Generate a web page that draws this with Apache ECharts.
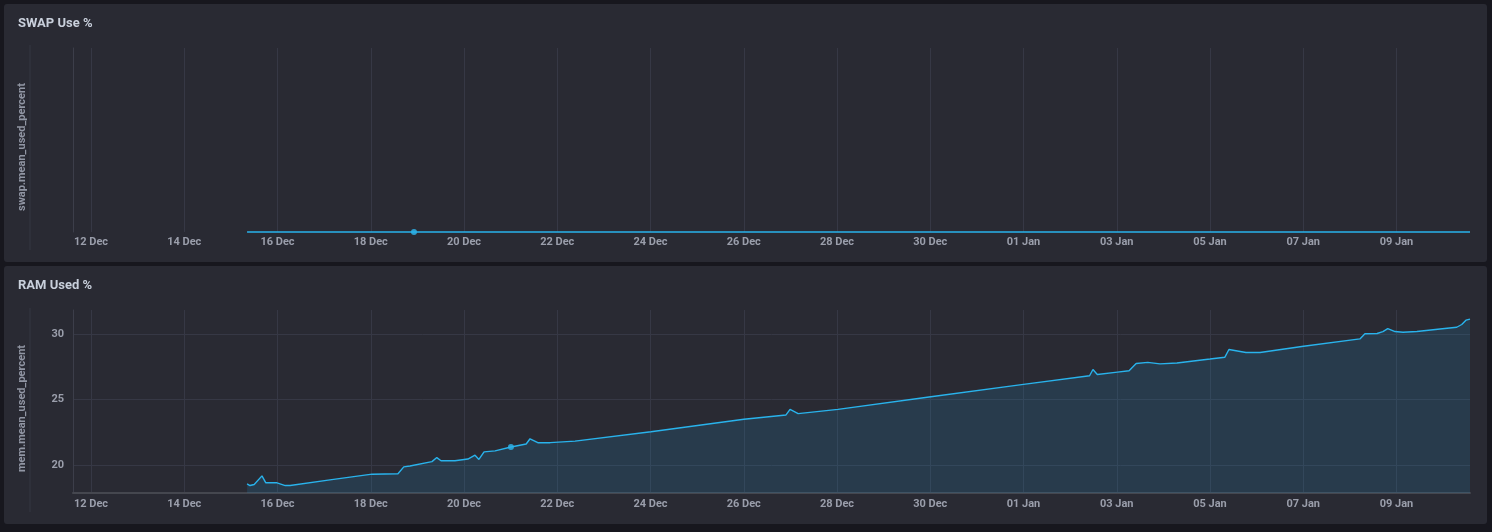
<!DOCTYPE html>
<html>
<head>
<meta charset="utf-8">
<script src="https://cdn.jsdelivr.net/npm/echarts@6/dist/echarts.min.js"></script>
<style>
  html,body{margin:0;padding:0;background:#17171e;width:1492px;height:532px;overflow:hidden;}
  .panel{position:absolute;background:#292a33;border-radius:3px;}
  #chart{position:absolute;left:0;top:0;width:1492px;height:532px;}
</style>
</head>
<body>
<div class="panel" style="left:4px;top:4px;width:1483px;height:258px;"></div>
<div class="panel" style="left:4px;top:266px;width:1483px;height:258px;"></div>
<div id="chart"></div>
<script>
// ---- data ----
const axisStart = '2023-12-11 14:44';
const axisEnd = '2024-01-10 13:50';
const tickDates = ['2023-12-12','2023-12-14','2023-12-16','2023-12-18','2023-12-20','2023-12-22',
  '2023-12-24','2023-12-26','2023-12-28','2023-12-30','2024-01-01','2024-01-03','2024-01-05',
  '2024-01-07','2024-01-09'];
const monthNames = ['Jan','Feb','Mar','Apr','May','Jun','Jul','Aug','Sep','Oct','Nov','Dec'];

const swapTimes = ['2023-12-15 08:20','2023-12-18 22:15','2023-12-24 00:00','2023-12-30 00:00','2024-01-05 00:00','2024-01-10 13:50'];
const swapValues = [0,0,0,0,0,0];
const swapHoverTime = '2023-12-18 22:15';
const swapHoverValue = 0;

const ramTimes = ['2023-12-15 08:20','2023-12-15 09:50','2023-12-15 12:00','2023-12-15 16:00','2023-12-15 18:00',
  '2023-12-15 23:45','2023-12-16 04:00','2023-12-16 06:30','2023-12-17 03:00','2023-12-18 00:40','2023-12-18 14:00',
  '2023-12-18 17:00','2023-12-18 20:10','2023-12-19 07:30','2023-12-19 10:00','2023-12-19 12:10','2023-12-19 19:20',
  '2023-12-20 02:00','2023-12-20 05:40','2023-12-20 07:40','2023-12-20 10:20','2023-12-20 16:00','2023-12-21 00:10',
  '2023-12-21 08:00','2023-12-21 10:00','2023-12-21 14:00','2023-12-21 20:20','2023-12-22 09:10','2023-12-24 00:15',
  '2023-12-26 00:05','2023-12-26 21:45','2023-12-26 23:50','2023-12-27 04:00','2023-12-28 00:30','2023-12-30 00:20',
  '2024-01-01 00:00','2024-01-02 10:00','2024-01-02 11:45','2024-01-02 14:00','2024-01-03 00:20','2024-01-03 06:20',
  '2024-01-03 10:00','2024-01-03 16:00','2024-01-03 22:15','2024-01-04 07:00','2024-01-05 00:00','2024-01-05 07:40',
  '2024-01-05 09:45','2024-01-05 18:30','2024-01-06 01:45','2024-01-07 00:10','2024-01-08 05:10','2024-01-08 07:45',
  '2024-01-08 14:00','2024-01-08 17:00','2024-01-08 19:30','2024-01-08 23:15','2024-01-09 03:20','2024-01-09 10:30',
  '2024-01-09 22:25','2024-01-10 07:00','2024-01-10 09:35','2024-01-10 11:45','2024-01-10 13:50'];
const ramValues = [18.55,18.42,18.5,19.16,18.63,
  18.63,18.42,18.42,18.85,19.29,19.32,
  19.85,19.92,20.25,20.56,20.32,20.32,
  20.45,20.74,20.42,21.0,21.07,21.37,
  21.6,22.0,21.7,21.7,21.82,22.54,
  23.49,23.82,24.25,23.92,24.25,25.21,
  26.16,26.82,27.3,26.92,27.1,27.2,
  27.76,27.84,27.73,27.8,28.1,28.24,
  28.83,28.6,28.6,29.08,29.64,30.03,
  30.05,30.2,30.43,30.2,30.15,30.2,
  30.4,30.53,30.74,31.07,31.15];
const ramHoverTime = '2023-12-21 00:10';
const ramHoverValue = 21.37;
const ramTicks = [20,25,30];
const ramMin = 17.85, ramMax = 31.85;

// ---- helpers ----
function t(s){
  const p = s.split(/[- :]/).map(Number);
  return Date.UTC(p[0], p[1]-1, p[2], p[3]||0, p[4]||0);
}
function pad(n){return (n<10?'0':'')+n;}
function fmtDate(v){const d=new Date(v);return pad(d.getUTCDate())+' '+monthNames[d.getUTCMonth()];}
const ticks = tickDates.map(t);

const lineColor = '#29b3ec';
const gridColor = '#363845';
const labelColor = '#9a9eab';
const fontFam = 'Roboto, "Noto Sans", sans-serif';

function xAxisDef(gridIndex, showLine){
  return {
    type:'value', gridIndex, min:t(axisStart), max:t(axisEnd), scale:true,
    axisLine:{show:showLine, onZero:false, lineStyle:{color:'#45474f', width:2}},
    axisTick:{show:false, customValues:ticks},
    axisLabel:{customValues:ticks, formatter:fmtDate, color:labelColor, fontSize:11, fontWeight:'bold', fontFamily:fontFam, margin:showLine?6:5},
    splitLine:{show:true, lineStyle:{color:gridColor, width:1}}
  };
}
const nameStyle = {color:'#9196a4', fontSize:11, fontWeight:'bold', fontFamily:fontFam, padding:[0,14,0,0]};

const chart = echarts.init(document.getElementById('chart'), null, {renderer:'canvas'});
chart.setOption({
  backgroundColor:'transparent',
  animation:false,
  title:[
    {text:'SWAP Use %', left:18, top:17, padding:0, textStyle:{color:'#c9d0dc', fontSize:13, fontWeight:'bold', fontFamily:fontFam}},
    {text:'RAM Used %', left:18, top:279, padding:0, textStyle:{color:'#c9d0dc', fontSize:13, fontWeight:'bold', fontFamily:fontFam}}
  ],
  graphic:[
    {type:'rect', shape:{x:29.5, y:45, width:1, height:205}, style:{fill:'#353743'}, silent:true},
    {type:'rect', shape:{x:29.5, y:308, width:1, height:204}, style:{fill:'#353743'}, silent:true}
  ],
  grid:[
    {left:73, right:22, top:48, height:184},
    {left:73, right:22, top:310, height:183}
  ],
  xAxis:[xAxisDef(0,false), xAxisDef(1,true)],
  yAxis:[
    {type:'value', gridIndex:0, min:0, max:1,
     name:'swap.mean_used_percent', nameLocation:'middle', nameGap:45, nameRotate:90,
     nameTextStyle:nameStyle,
     axisLine:{show:true, lineStyle:{color:'#3c3e4a'}}, axisTick:{show:false},
     axisLabel:{show:false}, splitLine:{show:false}},
    {type:'value', gridIndex:1, min:ramMin, max:ramMax,
     name:'mem.mean_used_percent', nameLocation:'middle', nameGap:45, nameRotate:90,
     nameTextStyle:nameStyle,
     axisLine:{show:true, lineStyle:{color:'#3c3e4a'}},
     axisTick:{show:false, customValues:ramTicks},
     axisLabel:{customValues:ramTicks, color:labelColor, fontSize:11, fontWeight:'bold', fontFamily:fontFam, margin:9},
     splitLine:{show:true, lineStyle:{color:gridColor}}}
  ],
  series:[
    {type:'line', xAxisIndex:0, yAxisIndex:0, showSymbol:false, symbol:'none',
     data:swapTimes.map((s,i)=>[t(s),swapValues[i]]),
     lineStyle:{color:lineColor, width:1.4}, clip:false},
    {type:'scatter', xAxisIndex:0, yAxisIndex:0, symbolSize:6,
     data:[[t(swapHoverTime), swapHoverValue]], itemStyle:{color:'#2fbaf2'}},
    {type:'line', xAxisIndex:1, yAxisIndex:1, showSymbol:false, symbol:'none',
     data:ramTimes.map((s,i)=>[t(s),ramValues[i]]),
     lineStyle:{color:lineColor, width:1.4},
     areaStyle:{color:'rgba(40,150,210,0.23)', origin:'start'}},
    {type:'scatter', xAxisIndex:1, yAxisIndex:1, symbolSize:6,
     data:[[t(ramHoverTime), ramHoverValue]], itemStyle:{color:'#2fbaf2'}}
  ]
});
</script>
</body>
</html>
